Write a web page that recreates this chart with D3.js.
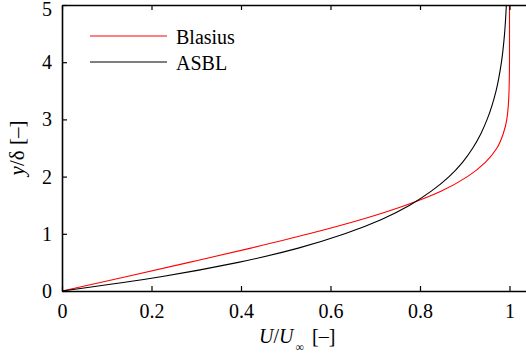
<!DOCTYPE html>
<html>
<head>
<meta charset="utf-8">
<script src="https://cdn.jsdelivr.net/npm/d3@7"></script>
<style>
  html, body { margin: 0; padding: 0; background: #fff; }
  svg { display: block; }
  svg text { fill: #000; }
</style>
</head>
<body>
<svg id="chart" width="526" height="354"></svg>
<script>
// Wall-normal coordinate y/δ at which the velocity profiles are sampled
const yPoints = [0, 0.25, 0.5, 0.75, 1.0, 1.25, 1.5, 1.75, 2.0, 2.25, 2.5, 2.75, 3.0, 3.5, 4.0, 4.5, 5.0];
// Blasius boundary-layer profile U/U∞
const blasius = [0, 0.143, 0.284, 0.422, 0.552, 0.669, 0.768, 0.848, 0.906, 0.946, 0.972, 0.986, 0.994, 0.999, 1.0, 1.0, 1.0];
// Asymptotic suction boundary-layer profile U/U∞
const asbl = [0, 0.221, 0.394, 0.528, 0.632, 0.714, 0.777, 0.826, 0.865, 0.895, 0.918, 0.936, 0.950, 0.970, 0.982, 0.989, 0.993];

const xTicks = [0, 0.2, 0.4, 0.6, 0.8, 1];
const yTicks = [0, 1, 2, 3, 4, 5];
const seriesNames = ["Blasius", "ASBL"];
const seriesColors = ["#ff0000", "#000000"];

const FONT = "'Liberation Serif', 'Times New Roman', serif";

const svg = d3.select("#chart");
const plotLeft = 62, plotTop = 5, plotBottom = 291;
const unit = 447.5; // pixels per unit of U/U∞

const x = d3.scaleLinear().domain([0, 1.05]).range([plotLeft, plotLeft + 1.05 * unit]);
const y = d3.scaleLinear().domain([0, 5]).range([plotBottom, plotTop]);

const fmt = d => (d === 0 || d === 1) ? String(d) : d3.format(".1f")(d);

// Profiles
const series = [blasius, asbl];
const line = d3.line()
  .x(d => x(d[0]))
  .y(d => y(d[1]))
  .curve(d3.curveMonotoneY);

series.forEach((vals, i) => {
  svg.append("path")
    .datum(vals.map((u, k) => [u, yPoints[k]]))
    .attr("d", line)
    .attr("fill", "none")
    .attr("stroke", seriesColors[i])
    .attr("stroke-width", 1.1);
});

// Axes with inward ticks
const axisStyle = g => {
  g.attr("font-family", FONT).attr("font-size", 20);
  g.select(".domain").attr("stroke", "#000").attr("stroke-width", 1.6);
  g.selectAll(".tick line").attr("stroke", "#000").attr("stroke-width", 1.2);
  g.selectAll(".tick text").style("font-family", FONT).style("font-size", "20px");
};

svg.append("g")
  .attr("transform", `translate(0,${plotBottom})`)
  .call(d3.axisBottom(x).tickValues(xTicks).tickFormat(fmt).tickSizeInner(-5).tickSizeOuter(0).tickPadding(13))
  .call(axisStyle);

svg.append("g")
  .attr("transform", `translate(0,${plotTop})`)
  .call(d3.axisTop(x).tickValues(xTicks).tickFormat("").tickSizeInner(-5).tickSizeOuter(0))
  .call(axisStyle);

const yAxis = svg.append("g")
  .attr("transform", `translate(${plotLeft},0)`)
  .call(d3.axisLeft(y).tickValues(yTicks).tickFormat(d3.format("d")).tickSizeInner(-5).tickSizeOuter(0).tickPadding(10))
  .call(axisStyle);
// keep the top label inside the canvas
yAxis.selectAll(".tick text").filter(d => d === 5).attr("dy", "0.5em");

// Axis titles
const xt = svg.append("text")
  .attr("x", 259).attr("y", 343)
  .style("font-family", FONT).style("font-size", "20px");
xt.append("tspan").attr("font-style", "italic").text("U");
xt.append("tspan").text("/");
xt.append("tspan").attr("font-style", "italic").text("U");
xt.append("tspan").style("font-size", "12px").attr("dx", 2).attr("dy", 8).text("∞");
xt.append("tspan").attr("x", 312).attr("dy", -8).text("[\u2013]");

const yt = svg.append("text")
  .attr("transform", `translate(24,${(plotTop + plotBottom) / 2}) rotate(-90)`)
  .attr("text-anchor", "middle")
  .style("font-family", FONT).style("font-size", "21px");
yt.append("tspan").attr("font-style", "italic").text("y");
yt.append("tspan").text("/δ [\u2013]");

// Legend
const legendY = [36, 62];
seriesNames.forEach((name, i) => {
  svg.append("line")
    .attr("x1", 90).attr("x2", 167)
    .attr("y1", legendY[i]).attr("y2", legendY[i])
    .attr("stroke", seriesColors[i])
    .attr("stroke-width", 1.1);
  svg.append("text")
    .attr("x", 176).attr("y", legendY[i] + 8)
    .style("font-family", FONT).style("font-size", "20px")
    .text(name);
});
</script>
</body>
</html>
